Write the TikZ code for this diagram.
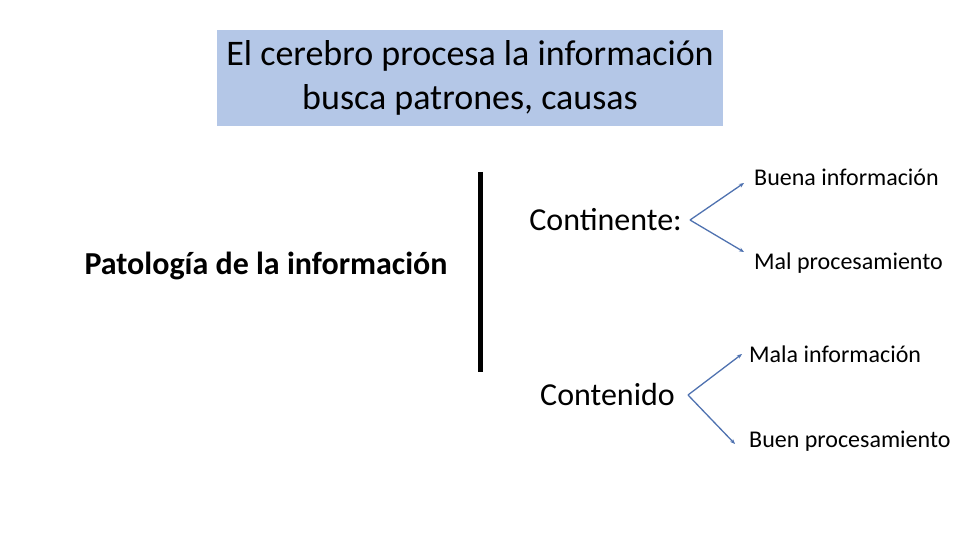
\documentclass[tikz,border=0pt]{standalone}
\usepackage{fontspec}
\setmainfont{Carlito}
\usetikzlibrary{arrows.meta}
\begin{document}
\begin{tikzpicture}[x=1pt,y=-1pt,
  arr/.style={draw={rgb,255:red,79;green,114;blue,176},line width=1.3pt,-{Stealth[length=5pt,width=4pt]}},
  lbl/.style={anchor=west,inner sep=0pt,font=\fontsize{24}{28}\selectfont}]
\useasboundingbox (0,0) rectangle (960,540);
\node[fill={rgb,255:red,180;green,199;blue,231},minimum width=506pt,minimum height=96pt,inner sep=0pt,align=center,font=\fontsize{36}{44}\selectfont] (title) at (470,78) {El cerebro procesa la información\\busca patrones, causas};
\node[font=\fontsize{32}{36}\selectfont\bfseries,inner sep=0pt] (pat) at (266,266) {Patología de la información};
\coordinate (vt) at (480,172); \coordinate (vb) at (480,372);
\draw[line width=5pt] (vt) -- (vb);
\node[font=\fontsize{32}{36}\selectfont,anchor=east,inner sep=0pt] (cont) at (682,220) {Continente:};
\node[font=\fontsize{32}{36}\selectfont,anchor=east,inner sep=0pt] (cdo) at (675,395) {Contenido};
\coordinate (f1) at (690,220); \coordinate (f2) at (688,395);
\node[lbl] (b1) at (754,177) {Buena información};
\node[lbl] (b2) at (754,263) {Mal procesamiento};
\node[lbl] (b3) at (749,354) {Mala información};
\node[lbl] (b4) at (749,441) {Buen procesamiento};
\coordinate (e1) at (744,183); \coordinate (e2) at (744,252);
\coordinate (e3) at (742,354); \coordinate (e4) at (735,444);
\draw[arr] (f1) -- (e1); \draw[arr] (f1) -- (e2);
\draw[arr] (f2) -- (e3); \draw[arr] (f2) -- (e4);
\end{tikzpicture}
\end{document}
